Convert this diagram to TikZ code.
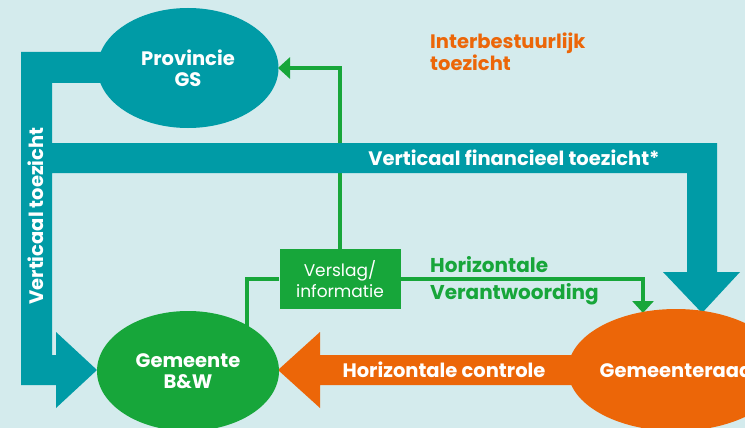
\documentclass[tikz,border=0pt]{standalone}
\usepackage{fontspec}
\setmainfont{Poppins}
\usetikzlibrary{shapes.geometric,arrows.meta,calc}
\definecolor{bgc}{RGB}{212,235,237}
\definecolor{tealc}{RGB}{0,155,166}
\definecolor{greenc}{RGB}{23,166,58}
\definecolor{orangec}{RGB}{236,102,8}
\begin{document}
\begin{tikzpicture}[x=1pt,y=-1pt,
  ell/.style={ellipse, inner sep=0pt, text=white, align=center,
    font=\bfseries\fontsize{19.5}{21}\selectfont},
  bandlab/.style={text=white, font=\bfseries\fontsize{19.5}{21}\selectfont, inner sep=0pt},
  glab/.style={text=greenc, font=\bfseries\fontsize{20}{21}\selectfont, inner sep=0pt, anchor=west},
  gline/.style={draw=greenc, line width=3.5pt},
  garrow/.style={gline, -{Triangle[width=21pt,length=12pt]}},
  ]
\useasboundingbox (0,0) rectangle (745,428);
\fill[bgc] (0,0) rectangle (745,428);
\begin{scope}
\clip (0,0) rectangle (745,428);
% coordinates
\coordinate (gemhid) at (247,350);
\coordinate (raadtip) at (643,313);
% green box
\node[fill=greenc, minimum width=121pt, minimum height=60pt, inner sep=0pt,
  text=white, align=center, font=\fontsize{17}{21}\selectfont] (box) at (340,279) {Verslag/\\informatie};
% green connectors
\draw[gline] (box.west) -| (gemhid);
\draw[garrow] (box.east) -| (raadtip);
\coordinate (provE) at (278,68);
\draw[garrow] (box.north) |- (provE);
% teal band: left and top
\fill[tealc] (21,52) -- (150,52) -- (150,83) -- (52,83) -- (52,143) -- (717,143)
  -- (717,272) -- (740,272) -- (702,313) -- (663,272) -- (687,272) -- (687,173)
  -- (52,173) -- (52,355) -- (56,355) -- (56,332) -- (97,370) -- (56,408)
  -- (56,385) -- (21,385) -- cycle;
% orange band
\fill[orangec] (278,370) -- (320,332) -- (320,355) -- (620,355) -- (620,385)
  -- (320,385) -- (320,408) -- cycle;
% ellipses
\node[ell, fill=tealc, minimum width=181pt, minimum height=120pt] (prov) at (188,68) {Provincie\\GS};
\node[ell, fill=greenc, minimum width=182pt, minimum height=120pt] (gem) at (188,371) {Gemeente\\B\&W};
\node[ell, fill=orangec, minimum width=186pt, minimum height=122pt] (raad) at (676,370) {Gemeenteraad};
% labels
\node[bandlab, rotate=90] (vt) at (36,216) {Verticaal toezicht};
\node[bandlab] (vft) at (514,158) {Verticaal financieel toezicht*};
\node[bandlab] (hc) at (444,370) {Horizontale controle};
\node[glab] (hz) at (430,265) {Horizontale};
\node[glab] (vw) at (430,294) {Verantwoording};
\node[text=orangec, font=\bfseries\fontsize{19.5}{22}\selectfont, align=left, inner sep=0pt, anchor=north west] (ibt) at (430,33) {Interbestuurlijk\\toezicht};
\end{scope}
\end{tikzpicture}
\end{document}
